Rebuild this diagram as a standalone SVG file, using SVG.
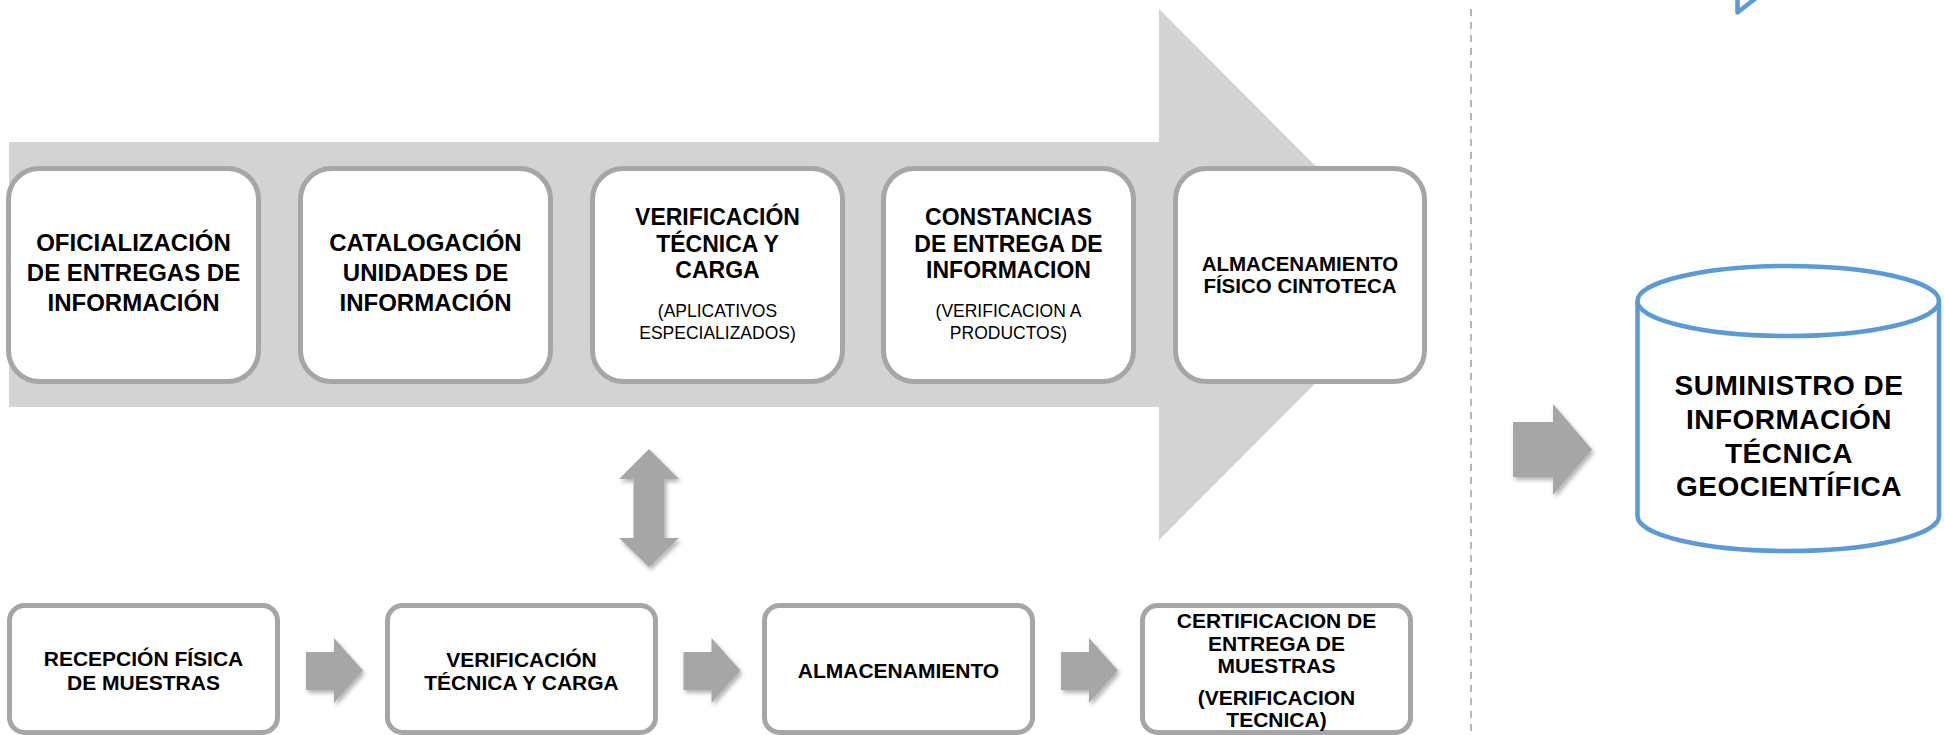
<svg xmlns="http://www.w3.org/2000/svg" width="1944" height="735" viewBox="0 0 1944 735">
<defs>
<filter id="sh" x="-30%" y="-30%" width="160%" height="160%">
<feDropShadow dx="2" dy="3" stdDeviation="2" flood-color="#000" flood-opacity="0.3"/>
</filter>
</defs>
<style>
.box{fill:#fff;stroke:#A6A6A6;stroke-width:5}
.t{font-family:"Liberation Sans",Arial,sans-serif;font-weight:bold;fill:#000;text-anchor:middle}
.top{font-size:24px}
.top3{font-size:23px}
.sub{font-size:17.5px;font-weight:normal}
.b5{font-size:20.5px}
.bot{font-size:21px}
.cyl{font-size:28px;letter-spacing:0.5px}
.arr{fill:#A6A6A6;filter:url(#sh)}
.cylsh{fill:#fff;stroke:#5B9BD5;stroke-width:4.5}
</style>
<rect width="1944" height="735" fill="#fff"/>
<g id="process-arrow">
<polygon points="9,142 1159,142 1159,9 1424,274.5 1159,540 1159,407 9,407" fill="#D3D3D3"/>
</g>
<line id="divider" x1="1471" y1="9" x2="1471" y2="735" stroke="#A6A6A6" stroke-width="1.6" stroke-dasharray="7 6"/>
<g id="oficializacion">
<rect class="box" x="8.5" y="168.5" width="250" height="213" rx="31"/>
<text class="t top" x="133.5" y="251">OFICIALIZACIÓN</text>
<text class="t top" x="133.5" y="281">DE ENTREGAS DE</text>
<text class="t top" x="133.5" y="311">INFORMACIÓN</text>
</g>
<g id="catalogacion">
<rect class="box" x="300.5" y="168.5" width="250" height="213" rx="31"/>
<text class="t top" x="425.5" y="251">CATALOGACIÓN</text>
<text class="t top" x="425.5" y="281">UNIDADES DE</text>
<text class="t top" x="425.5" y="311">INFORMACIÓN</text>
</g>
<g id="verificacion-carga">
<rect class="box" x="592.5" y="168.5" width="250" height="213" rx="31"/>
<text class="t top3" x="717.5" y="225">VERIFICACIÓN</text>
<text class="t top3" x="717.5" y="251.5">TÉCNICA Y</text>
<text class="t top3" x="717.5" y="278">CARGA</text>
<text class="t sub" x="717.5" y="317">(APLICATIVOS</text>
<text class="t sub" x="717.5" y="339">ESPECIALIZADOS)</text>
</g>
<g id="constancias">
<rect class="box" x="883.5" y="168.5" width="250" height="213" rx="31"/>
<text class="t top3" x="1008.5" y="225">CONSTANCIAS</text>
<text class="t top3" x="1008.5" y="251.5">DE ENTREGA DE</text>
<text class="t top3" x="1008.5" y="278">INFORMACION</text>
<text class="t sub" x="1008.5" y="317">(VERIFICACION A</text>
<text class="t sub" x="1008.5" y="339">PRODUCTOS)</text>
</g>
<g id="almacenamiento-cintoteca">
<rect class="box" x="1175.5" y="168.5" width="249" height="213" rx="31"/>
<text class="t b5" x="1300" y="271">ALMACENAMIENTO</text>
<text class="t b5" x="1300" y="293">FÍSICO CINTOTECA</text>
</g>
<g id="recepcion">
<rect class="box" x="9.5" y="605.5" width="268" height="127" rx="15"/>
<text class="t bot" x="143.5" y="666">RECEPCIÓN FÍSICA</text>
<text class="t bot" x="143.5" y="690">DE MUESTRAS</text>
</g>
<g id="verificacion-muestras">
<rect class="box" x="387.5" y="605.5" width="268" height="127" rx="15"/>
<text class="t bot" x="521.5" y="667">VERIFICACIÓN</text>
<text class="t bot" x="521.5" y="690">TÉCNICA Y CARGA</text>
</g>
<g id="almacenamiento">
<rect class="box" x="764.5" y="605.5" width="268" height="127" rx="15"/>
<text class="t bot" x="898.5" y="678">ALMACENAMIENTO</text>
</g>
<g id="certificacion">
<rect class="box" x="1142.5" y="605.5" width="268" height="127" rx="15"/>
<text class="t bot" x="1276.5" y="628">CERTIFICACION DE</text>
<text class="t bot" x="1276.5" y="651">ENTREGA DE</text>
<text class="t bot" x="1276.5" y="673">MUESTRAS</text>
<text class="t bot" x="1276.5" y="705">(VERIFICACION</text>
<text class="t bot" x="1276.5" y="727">TECNICA)</text>
</g>
<g id="suministro">
<path class="cylsh" d="M1637.5,301 V516 A150.75,35 0 0 0 1939,516 V301"/>
<ellipse class="cylsh" cx="1788.25" cy="301" rx="150.75" ry="35"/>
<text class="t cyl" x="1789" y="395">SUMINISTRO DE</text>
<text class="t cyl" x="1789" y="429">INFORMACIÓN</text>
<text class="t cyl" x="1789" y="463">TÉCNICA</text>
<text class="t cyl" x="1789" y="496">GEOCIENTÍFICA</text>
</g>
<g id="blue-fragment">
<polyline points="1737.5,-4 1737.5,12.5 1756,-2" fill="none" stroke="#5B9BD5" stroke-width="4.5" stroke-linejoin="round" stroke-linecap="round"/>
</g>
<g id="connectors">
<polygon class="arr" points="649,449 679,479 664.5,479 664.5,538 679,538 649,567 619,538 633.5,538 633.5,479 619,479"/>
<polygon class="arr" points="306,652 334,652 334,638 363,670.5 334,703 334,690 306,690"/>
<polygon class="arr" points="683.5,652 711.5,652 711.5,638 740.5,670.5 711.5,703 711.5,690 683.5,690"/>
<polygon class="arr" points="1061,652 1089,652 1089,638 1118,670.5 1089,703 1089,690 1061,690"/>
<polygon class="arr" points="1513,422 1553,422 1553,404 1592,449.5 1553,495 1553,477 1513,477"/>
</g>
</svg>
